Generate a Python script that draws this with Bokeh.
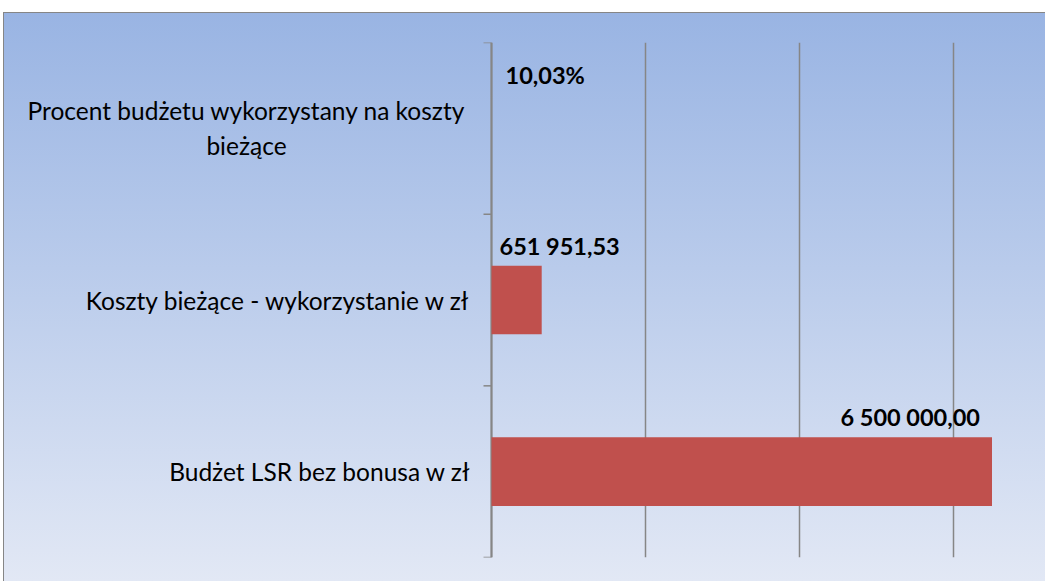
import math
from bokeh.plotting import figure
from bokeh.models import ColumnDataSource, FixedTicker, Range1d
from bokeh.core.properties import value
from bokeh.embed import file_html
from bokeh.resources import INLINE

# ---- data (bottom to top) ----
categories = [
    "Budżet LSR bez bonusa w zł",
    "Koszty bieżące - wykorzystanie w zł",
    "Procent budżetu wykorzystany na koszty\nbieżące",
]
values = [6500000.00, 651951.53, 0.1003]
value_kinds = ["amount", "amount", "percent"]
x_ticks = [0, 2000000, 4000000, 6000000]
x_max = 7000000


def fmt_pl(v, kind):
    if kind == "percent":
        return f"{v * 100:.2f}%".replace(".", ",")
    s = f"{v:,.2f}"
    return s.replace(",", " ").replace(".", ",")


labels = [fmt_pl(v, k) for v, k in zip(values, value_kinds)]

# ---- layout / styling ----
label_px = 488          # width of the category-label strip left of the value axis
plot_px = 539           # width of the value area
label_anchor_at_value = [True, False, False]
label_align = ["right", "left", "left"]
label_dx = [-12, 8, 14]
label_dy = [-20, -20, -19]
cat_align = ["right", "right", "center"]
cat_dx = [-21, -21, -245]
bar_h = 0.4
axis_color = "#868686"

ys = list(range(len(categories)))
bounds = [y - 0.5 for y in ys] + [ys[-1] + 0.5]

src = ColumnDataSource(dict(y=ys, value=values))
lab_src = ColumnDataSource(dict(
    x=[v if a else 0 for v, a in zip(values, label_anchor_at_value)],
    y=[y + bar_h / 2 for y in ys],
    text=labels, align=label_align, dx=label_dx, dy=label_dy,
))
cat_src = ColumnDataSource(dict(
    x=[0] * len(categories), y=ys, text=categories, align=cat_align, dx=cat_dx,
))
tick_src = ColumnDataSource(dict(x=[0] * len(bounds), y=bounds))

p = figure(
    width=label_px + plot_px + 15, height=569,
    x_range=Range1d(-x_max * label_px / plot_px, x_max),
    y_range=Range1d(bounds[0], bounds[-1]),
    output_backend="svg", toolbar_location=None,
    min_border_left=0, min_border_top=30, min_border_right=15, min_border_bottom=24,
)
p.border_fill_color = None
p.background_fill_color = None
p.outline_line_color = None
p.styles = {
    "position": "absolute",
    "left": "3px",
    "top": "12px",
    "background": "linear-gradient(to bottom, #99B4E3 0%, #B9CBEB 45%, #E2E8F5 100%)",
    "box-shadow": "inset 1px 1px 0 0 #868686",
}

p.xaxis.visible = False
p.yaxis.visible = False
p.xgrid.ticker = FixedTicker(ticks=x_ticks)
p.xgrid.grid_line_color = axis_color
p.xgrid.grid_line_width = 1.5
p.ygrid.visible = False

# value axis line and category tick marks (pointing outward)
p.segment(x0=0, y0=bounds[0], x1=0, y1=bounds[-1],
          line_color=axis_color, line_width=2)
p.ray(x="x", y="y", length=8, length_units="screen", angle=math.pi,
      source=tick_src, line_color=axis_color, line_width=1.5)

p.hbar(y="y", left=0, right="value", height=bar_h, source=src,
       fill_color="#C0504D", line_color=None)

p.text(x="x", y="y", text="text", source=lab_src,
       x_offset="dx", y_offset="dy", text_align="align",
       text_baseline="middle", text_font=value("Lato"),
       text_font_style="bold", text_font_size="23.5px", text_color="black")

p.text(x="x", y="y", text="text", source=cat_src,
       x_offset="dx", text_align="align", text_baseline="middle",
       text_font=value("Lato"), text_font_size="24.5px", text_color="black")

open("out.html", "w").write(file_html(p, INLINE))
